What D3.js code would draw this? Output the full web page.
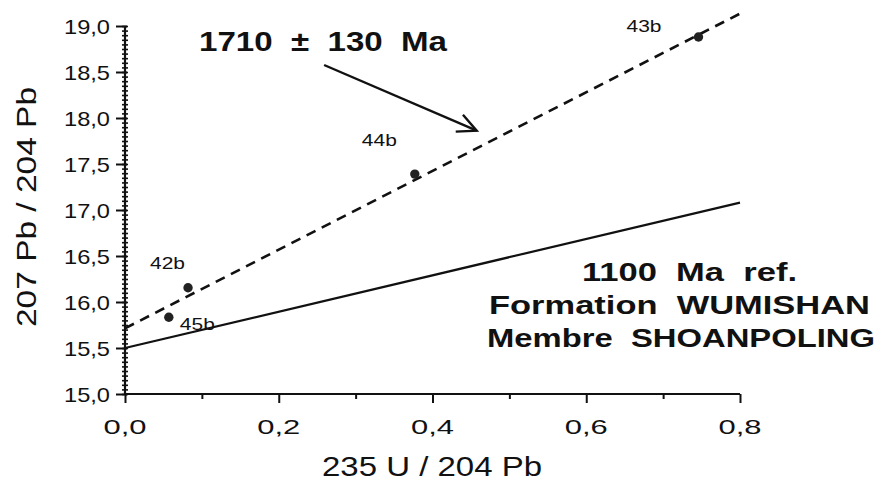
<!DOCTYPE html>
<html>
<head>
<meta charset="utf-8">
<script src="https://cdn.jsdelivr.net/npm/d3@7"></script>
<style>
  html, body { margin: 0; padding: 0; background: #fff; }
  svg { display: block; }
  text { font-family: "Liberation Sans", Arial, Helvetica, sans-serif; fill: #111; white-space: pre; }
</style>
</head>
<body>
<svg id="chart" width="881" height="490"></svg>
<script>
// ---------- data ----------
const sampleLabels = ["42b", "45b", "44b", "43b"];
const sampleX = [0.082, 0.057, 0.377, 0.746];
const sampleY = [16.155, 15.834, 17.39, 18.88];

const xTickValues = [0, 0.2, 0.4, 0.6, 0.8];
const xTickLabels = ["0,0", "0,2", "0,4", "0,6", "0,8"];
const yTickValues = [15, 15.5, 16, 16.5, 17, 17.5, 18, 18.5, 19];
const yTickLabels = ["15,0", "15,5", "16,0", "16,5", "17,0", "17,5", "18,0", "18,5", "19,0"];

// isochron (dashed) fit line and 1100 Ma reference line: [x, y] end points
const isochronX = [0, 0.804];
const isochronY = [15.714, 19.152];
const refX = [0, 0.8];
const refY = [15.5, 17.08];

const isochronLabel = "1710  ±  130  Ma";
const arrowX = [0.259, 0.4575];
const arrowY = [18.576, 17.862];
const infoLines = ["1100  Ma  ref.", "Formation  WUMISHAN", "Membre  SHOANPOLING"];
const xTitle = "235 U / 204 Pb";
const yTitle = "207 Pb / 204 Pb";

// ---------- layout ----------
const svg = d3.select("#chart");
const x = d3.scaleLinear().domain([0, 0.8]).range([125, 740]);
const y = d3.scaleLinear().domain([15, 19]).range([394, 26]);
const ink = "#111";

// ---------- axes ----------
const gx = svg.append("g").attr("transform", `translate(0,${y(15)})`);
gx.call(d3.axisBottom(x).tickValues(d3.range(0, 0.801, 0.1)).tickSize(5).tickFormat(""));
gx.select(".domain").attr("stroke", ink).attr("stroke-width", 2.2).attr("d", `M${x(0)},0H${x(0.8)}`);
gx.selectAll(".tick line").attr("stroke", ink).attr("stroke-width", 2)
  .attr("y2", (d) => (Math.round(d * 10) % 2 === 0 ? 9 : 5));
gx.selectAll(".tick text").remove();
gx.selectAll(".xlab").data(xTickValues).enter().append("text")
  .attr("class", "xlab")
  .attr("x", (d) => x(d)).attr("y", 40)
  .attr("text-anchor", "middle")
  .attr("font-size", 21)
  .attr("textLength", 43).attr("lengthAdjust", "spacingAndGlyphs")
  .text((d, i) => xTickLabels[i]);

const gy = svg.append("g").attr("transform", `translate(${x(0)},0)`);
// minor ticks (every 0.05), crossing the axis
gy.call(d3.axisLeft(y).tickValues(d3.range(15, 19.001, 0.05)).tickSize(3).tickFormat(""));
gy.selectAll(".tick line").attr("stroke", ink).attr("stroke-width", 1.6).attr("x1", 3);
gy.select(".domain").attr("stroke", ink).attr("stroke-width", 2.2).attr("d", `M0,${y(15)}V${y(19)}`);
// major ticks
const gyMaj = svg.append("g").attr("transform", `translate(${x(0)},0)`);
gyMaj.call(d3.axisLeft(y).tickValues(yTickValues).tickSize(9)
  .tickFormat((d, i) => yTickLabels[i]));
gyMaj.select(".domain").remove();
gyMaj.selectAll(".tick line").attr("stroke", ink).attr("stroke-width", 2).attr("x2", -9).attr("x1", 2);
gyMaj.selectAll(".tick text")
  .attr("x", -15).attr("dy", "0.36em")
  .attr("font-size", 21).attr("fill", ink)
  .attr("font-family", "'Liberation Sans', Arial, sans-serif")
  .attr("textLength", 46).attr("lengthAdjust", "spacingAndGlyphs");

// ---------- axis titles ----------
svg.append("text")
  .attr("x", 432).attr("y", 476)
  .attr("text-anchor", "middle").attr("font-size", 28)
  .attr("textLength", 220).attr("lengthAdjust", "spacingAndGlyphs")
  .text(xTitle);
svg.append("text")
  .attr("transform", "translate(36,207) rotate(-90)")
  .attr("text-anchor", "middle").attr("font-size", 28)
  .attr("textLength", 240).attr("lengthAdjust", "spacingAndGlyphs")
  .text(yTitle);

// ---------- lines ----------
const line = d3.line().x((d) => x(d[0])).y((d) => y(d[1]));
svg.append("path")
  .datum(d3.zip(refX, refY))
  .attr("d", line).attr("fill", "none").attr("stroke", ink).attr("stroke-width", 2.2);
svg.append("path")
  .datum(d3.zip(isochronX, isochronY))
  .attr("d", line).attr("fill", "none").attr("stroke", ink).attr("stroke-width", 2.6)
  .attr("stroke-dasharray", "10,7");

// ---------- points ----------
const pts = d3.range(sampleX.length).map((i) => ({ lab: sampleLabels[i], x: sampleX[i], y: sampleY[i] }));
svg.selectAll("circle.pt").data(pts).enter().append("circle")
  .attr("class", "pt")
  .attr("cx", (d) => x(d.x)).attr("cy", (d) => y(d.y)).attr("r", 4.7)
  .attr("fill", "#222");
const labOff = { "42b": [-38, -18.5], "45b": [11, 13], "44b": [-53, -28], "43b": [-72, -5] };
svg.selectAll("text.pl").data(pts).enter().append("text")
  .attr("class", "pl")
  .attr("x", (d) => x(d.x) + labOff[d.lab][0])
  .attr("y", (d) => y(d.y) + labOff[d.lab][1])
  .attr("font-size", 17)
  .attr("textLength", 35).attr("lengthAdjust", "spacingAndGlyphs")
  .text((d) => d.lab);

// ---------- annotation ----------
svg.append("text")
  .attr("x", 199).attr("y", 51)
  .attr("font-size", 28).attr("font-weight", "bold")
  .attr("textLength", 248).attr("lengthAdjust", "spacingAndGlyphs")
  .text(isochronLabel);

const a0 = [x(arrowX[0]), y(arrowY[0])];
const a1 = [x(arrowX[1]), y(arrowY[1])];
svg.append("line")
  .attr("x1", a0[0]).attr("y1", a0[1]).attr("x2", a1[0]).attr("y2", a1[1])
  .attr("stroke", ink).attr("stroke-width", 2.4);
const ang = Math.atan2(a1[1] - a0[1], a1[0] - a0[0]);
const headLen = 21, spread = 0.45;
const headPts = [
  [a1[0] - headLen * Math.cos(ang - spread), a1[1] - headLen * Math.sin(ang - spread)],
  a1,
  [a1[0] - headLen * Math.cos(ang + spread), a1[1] - headLen * Math.sin(ang + spread)]
];
svg.append("path")
  .attr("d", d3.line()(headPts))
  .attr("fill", "none").attr("stroke", ink).attr("stroke-width", 2.4);

const infoPos = [[582, 281, 215], [489, 314, 381], [487, 347, 388]];
svg.selectAll("text.info").data(infoLines).enter().append("text")
  .attr("class", "info")
  .attr("x", (d, i) => infoPos[i][0]).attr("y", (d, i) => infoPos[i][1])
  .attr("font-size", 26).attr("font-weight", "bold")
  .attr("textLength", (d, i) => infoPos[i][2]).attr("lengthAdjust", "spacingAndGlyphs")
  .text((d) => d);
</script>
</body>
</html>
